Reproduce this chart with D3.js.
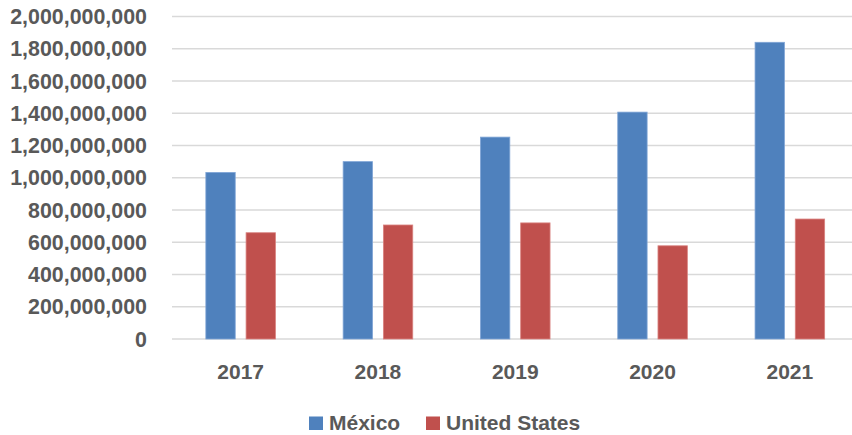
<!DOCTYPE html>
<html>
<head>
<meta charset="utf-8">
<script src="https://cdn.jsdelivr.net/npm/d3@7"></script>
<style>
  body { margin: 0; background: #fff; }
  svg { display: block; }
  text { font-family: "Liberation Sans", Arial, sans-serif; font-weight: bold; fill: #595959; }
</style>
</head>
<body>
<div id="chart"></div>
<script>
const years = ["2017", "2018", "2019", "2020", "2021"];
const seriesNames = ["México", "United States"];
const mexico = [1033000000, 1100000000, 1252000000, 1407000000, 1840000000];
const unitedStates = [659000000, 707000000, 720000000, 578000000, 744000000];
const yTicks = [0, 200000000, 400000000, 600000000, 800000000, 1000000000,
  1200000000, 1400000000, 1600000000, 1800000000, 2000000000];
const colors = ["#4F81BD", "#C0504D"];
const edgeColors = ["#7FA5D6", "#D98380"];

const width = 852, height = 435;
const margin = { top: 16.5, right: -6.5, bottom: 96, left: 172 };

const svg = d3.select("#chart").append("svg")
    .attr("width", width)
    .attr("height", height);

const x = d3.scaleBand()
    .domain(years)
    .range([margin.left, width - margin.right])
    .paddingInner(0)
    .paddingOuter(0);

const xInner = d3.scaleBand()
    .domain(seriesNames)
    .range([0, 69.6])
    .paddingInner(0.27);

const y = d3.scaleLinear()
    .domain([0, 2000000000])
    .range([height - margin.bottom, margin.top]);

// gridlines
svg.append("g")
  .selectAll("line")
  .data(yTicks)
  .join("line")
    .attr("x1", margin.left)
    .attr("x2", width)
    .attr("y1", d => y(d))
    .attr("y2", d => y(d))
    .attr("stroke", "#D9D9D9")
    .attr("stroke-width", 1.5);

// y axis labels
const fmt = d3.format(",");
svg.append("g")
  .selectAll("text")
  .data(yTicks)
  .join("text")
    .attr("x", 147)
    .attr("y", d => y(d))
    .attr("dy", "0.36em")
    .attr("text-anchor", "end")
    .attr("font-size", 21.4)
    .text(d => fmt(d));

// bars
const rows = years.map((yr, i) => ({ year: yr, values: [mexico[i], unitedStates[i]] }));
const groups = svg.append("g")
  .selectAll("g")
  .data(rows)
  .join("g")
    .attr("transform", d => `translate(${x(d.year) + x.bandwidth() / 2 - 34.8},0)`);

groups.selectAll("rect")
  .data(d => d.values.map((v, j) => ({ name: seriesNames[j], value: v, j })))
  .join("rect")
    .attr("x", d => xInner(d.name))
    .attr("y", d => y(d.value))
    .attr("width", xInner.bandwidth())
    .attr("height", d => y(0) - y(d.value))
    .attr("fill", d => colors[d.j])
    .attr("stroke", d => edgeColors[d.j])
    .attr("stroke-width", 0.8);

// x labels
svg.append("g")
  .selectAll("text")
  .data(years)
  .join("text")
    .attr("x", d => x(d) + x.bandwidth() / 2)
    .attr("y", 379)
    .attr("text-anchor", "middle")
    .attr("font-size", 21)
    .text(d => d);

// legend
const legendX = [309, 426];
const legend = svg.append("g")
  .selectAll("g")
  .data(seriesNames)
  .join("g")
    .attr("transform", (d, i) => `translate(${legendX[i]},0)`);

legend.append("rect")
    .attr("x", 0)
    .attr("y", 416.5)
    .attr("width", 14)
    .attr("height", 13.5)
    .attr("fill", (d, i) => colors[i]);

legend.append("text")
    .attr("x", 20)
    .attr("y", 430)
    .attr("font-size", 21)
    .text(d => d);
</script>
</body>
</html>
